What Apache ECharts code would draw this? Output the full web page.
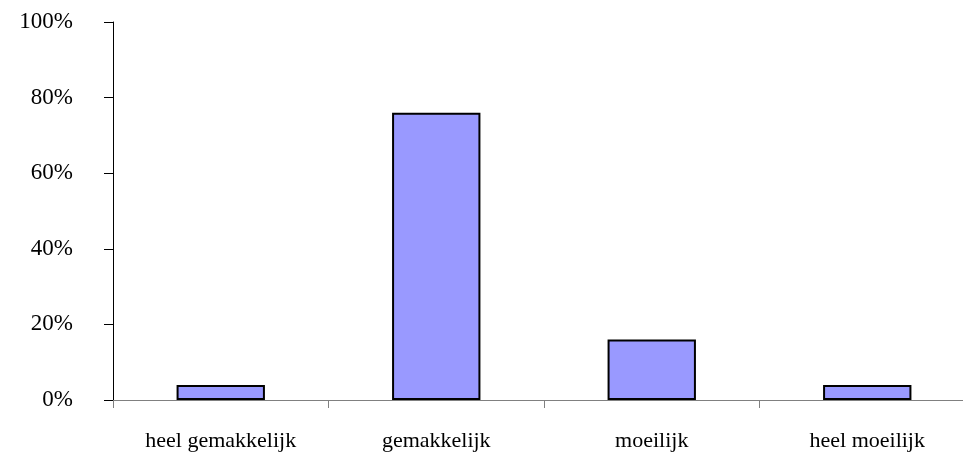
<!DOCTYPE html>
<html>
<head>
<meta charset="utf-8">
<script src="https://cdn.jsdelivr.net/npm/echarts@6/dist/echarts.min.js"></script>
<style>
  html, body { margin: 0; padding: 0; background: #ffffff; overflow: hidden; }
  /* the plot runs past the right edge of the window, as in the original */
  #chart { width: 980px; height: 455px; }
</style>
</head>
<body>
<div id="chart"></div>
<script>
const categories = ['heel gemakkelijk', 'gemakkelijk', 'moeilijk', 'heel moeilijk']
const values = [4, 76, 16, 4]
const yTicks = [0, 20, 40, 60, 80, 100]

const chart = echarts.init(document.getElementById('chart'))

chart.setOption({
  animation: false,
  textStyle: { fontFamily: '"Liberation Serif", "Times New Roman", serif' },
  grid: { left: 113, top: 22, right: 5, bottom: 55 },
  xAxis: {
    type: 'category',
    data: categories,
    boundaryGap: true,
    axisLine: { lineStyle: { color: '#808080', width: 1 } },
    axisTick: { show: true, length: 8, lineStyle: { color: '#808080' } },
    axisLabel: {
      color: '#000000',
      fontSize: 22,
      margin: 30,
      fontFamily: '"Liberation Serif", serif',
    },
  },
  yAxis: {
    type: 'value',
    min: yTicks[0],
    max: yTicks[yTicks.length - 1],
    interval: 20,
    axisLine: { show: true, lineStyle: { color: '#000000', width: 1 } },
    axisTick: { show: true, length: 9, lineStyle: { color: '#000000' } },
    splitLine: { show: false },
    axisLabel: {
      color: '#000000',
      fontSize: 23,
      margin: 40,
      fontFamily: '"Liberation Serif", serif',
      formatter: (v) => v + '%',
    },
  },
  series: [
    {
      type: 'bar',
      data: values,
      barWidth: '41%',
      itemStyle: {
        color: '#9999ff',
        borderColor: '#000000',
        borderWidth: 2,
      },
    },
  ],
})
</script>
</body>
</html>
